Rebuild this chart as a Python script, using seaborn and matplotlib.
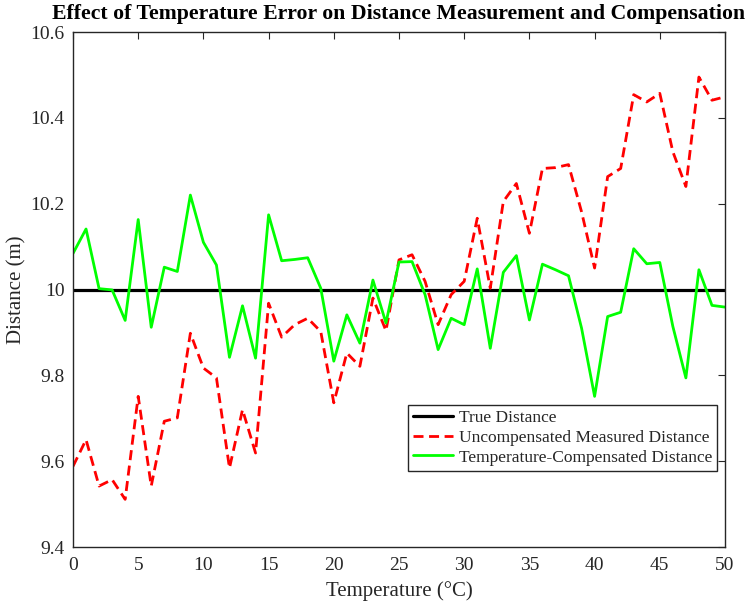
import numpy as np
import pandas as pd
import matplotlib
matplotlib.use("Agg")
import matplotlib.pyplot as plt
import seaborn as sns

temperature = list(range(0, 51))
true_distance = [10.0] * 51
uncompensated = [9.588, 9.650, 9.542, 9.557, 9.511, 9.751, 9.542, 9.693, 9.701, 9.898,
                 9.817, 9.794, 9.584, 9.720, 9.619, 9.968, 9.889, 9.918, 9.933, 9.902,
                 9.736, 9.852, 9.821, 9.980, 9.904, 10.069, 10.081, 10.019, 9.918, 9.988,
                 10.019, 10.166, 10.003, 10.205, 10.247, 10.131, 10.282, 10.284, 10.291, 10.181,
                 10.050, 10.263, 10.282, 10.454, 10.437, 10.457, 10.321, 10.240, 10.495, 10.441,
                 10.449]
compensated = [10.084, 10.141, 10.002, 9.999, 9.928, 10.163, 9.912, 10.052, 10.042, 10.220,
               10.110, 10.057, 9.842, 9.962, 9.840, 10.174, 10.067, 10.070, 10.074, 10.003,
               9.833, 9.941, 9.875, 10.022, 9.922, 10.064, 10.065, 9.988, 9.860, 9.933,
               9.918, 10.048, 9.863, 10.040, 10.079, 9.929, 10.059, 10.046, 10.032, 9.910,
               9.751, 9.937, 9.947, 10.095, 10.060, 10.063, 9.914, 9.794, 10.046, 9.963,
               9.959]
x_ticks = [0, 5, 10, 15, 20, 25, 30, 35, 40, 45, 50]
y_ticks = [9.4, 9.6, 9.8, 10.0, 10.2, 10.4, 10.6]
y_tick_labels = ["9.4", "9.6", "9.8", "10", "10.2", "10.4", "10.6"]

df = pd.DataFrame({"T": temperature, "true": true_distance,
                   "unc": uncompensated, "comp": compensated})

sns.set_style("white")
plt.rcParams['font.family'] = ['Liberation Serif', 'DejaVu Serif']

fig = plt.figure(figsize=(7.56, 6.07), dpi=100)
ax = fig.add_axes([73/756, 1 - 547/607, (725-73)/756, (547-32)/607])

sns.lineplot(data=df, x="T", y="true", ax=ax, color="black", linewidth=2.3,
             label="True Distance")
sns.lineplot(data=df, x="T", y="unc", ax=ax, color="#ff0000", linewidth=2.0,
             label="Uncompensated Measured Distance")
ax.lines[-1].set_dashes([3.6, 2.0])
sns.lineplot(data=df, x="T", y="comp", ax=ax, color="#00ff00", linewidth=2.0,
             label="Temperature-Compensated Distance")

ax.set_xlim(0, 50)
ax.set_ylim(9.4, 10.6)
ax.set_xticks(x_ticks)
ax.set_xticklabels([str(t) for t in x_ticks])
ax.set_yticks(y_ticks)
ax.set_yticklabels(y_tick_labels)
ax.tick_params(axis="both", direction="in", top=True, right=True, length=5,
               width=0.8, labelsize=14, colors="#262626")
ax.tick_params(axis="x", pad=7)
ax.tick_params(axis="y", pad=6)
for s in ax.spines.values():
    s.set_color("#262626")
    s.set_linewidth(1.0)

ax.set_xlabel("Temperature (°C)", fontsize=15, color="#262626", labelpad=5)
ax.set_ylabel("Distance (m)", fontsize=15, color="#262626", labelpad=3)
ax.set_title("Effect of Temperature Error on Distance Measurement and Compensation",
             fontsize=15.7, fontweight="bold", pad=9, color="black")

leg = ax.legend(loc="lower right", bbox_to_anchor=(0.988, 0.148), fontsize=12.5,
                frameon=True, fancybox=False, edgecolor="#262626", framealpha=1,
                borderpad=0.3, labelspacing=0.2, handlelength=2.3, handletextpad=0.3,
                borderaxespad=0)
leg.get_frame().set_linewidth(1.0)

fig.savefig("out.png", dpi=100)
